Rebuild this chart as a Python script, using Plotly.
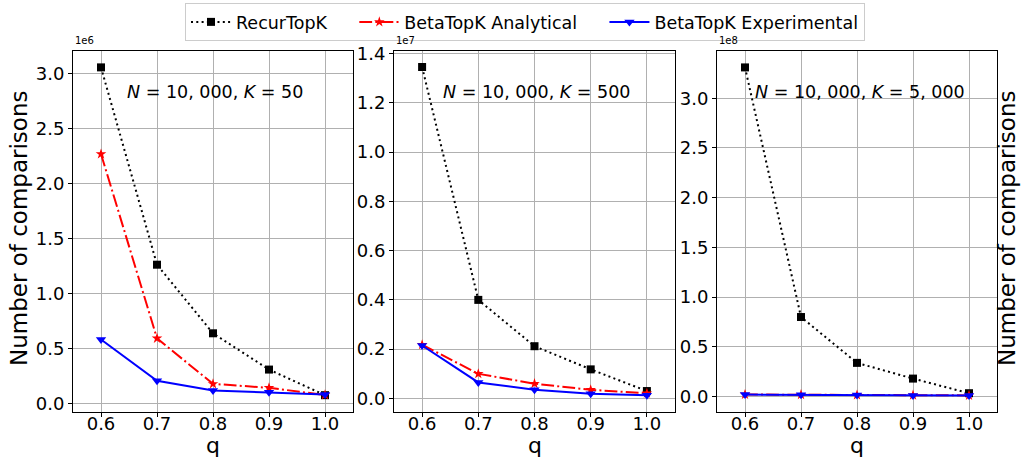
import plotly.graph_objects as go

q = [0.6, 0.7, 0.8, 0.9, 1.0]

# Panel 1: N=10,000, K=50
recur_k50 = [3.055e6, 1.26e6, 0.636e6, 0.306e6, 0.073e6]
analytical_k50 = [2.267e6, 0.59e6, 0.176e6, 0.14e6, 0.075e6]
experimental_k50 = [0.58e6, 0.204e6, 0.115e6, 0.10e6, 0.079e6]

# Panel 2: N=10,000, K=500
recur_k500 = [1.345e7, 0.40e7, 0.212e7, 0.118e7, 0.03e7]
analytical_k500 = [0.218e7, 0.10e7, 0.06e7, 0.035e7, 0.021e7]
experimental_k500 = [0.215e7, 0.065e7, 0.035e7, 0.019e7, 0.013e7]

# Panel 3: N=10,000, K=5,000
recur_k5000 = [3.31e8, 0.80e8, 0.339e8, 0.181e8, 0.034e8]
analytical_k5000 = [0.021e8, 0.019e8, 0.016e8, 0.014e8, 0.012e8]
experimental_k5000 = [0.02e8, 0.018e8, 0.015e8, 0.012e8, 0.01e8]

panel_titles = ["<i>N</i> = 10, 000, <i>K</i> = 50",
                "<i>N</i> = 10, 000, <i>K</i> = 500",
                "<i>N</i> = 10, 000, <i>K</i> = 5, 000"]
offset_labels = ["1e6", "1e7", "1e8"]
scales = [1e6, 1e7, 1e8]
ytick_labels = [
    ["0.0", "0.5", "1.0", "1.5", "2.0", "2.5", "3.0"],
    ["0.0", "0.2", "0.4", "0.6", "0.8", "1.0", "1.2", "1.4"],
    ["0.0", "0.5", "1.0", "1.5", "2.0", "2.5", "3.0"],
]
xtick_labels = ["0.6", "0.7", "0.8", "0.9", "1.0"]
series_names = ["RecurTopK", "BetaTopK Analytical", "BetaTopK Experimental"]
legend_pad = ["\u00a0\u00a0\u00a0\u00a0", "\u00a0\u00a0\u00a0\u00a0", ""]

W, H = 1021, 463
FONT = "DejaVu Sans"
ML, MR, MT, MB = 73, 24, 51, 51
PW, PH = W - ML - MR, H - MT - MB

def px_x(p):
    return (p - ML) / PW

def px_y(p):
    return (H - MB - p) / PH

panels = [
    (recur_k50, analytical_k50, experimental_k50),
    (recur_k500, analytical_k500, experimental_k500),
    (recur_k5000, analytical_k5000, experimental_k5000),
]

xpix = [(73, 353), (394, 675), (717, 997)]
yranges = [(-0.08e6, 3.204e6), (-0.055e7, 1.41e7), (-0.155e8, 3.475e8)]

fig = go.Figure()
for i, (rec, ana, exp) in enumerate(panels):
    xa = "x" if i == 0 else f"x{i+1}"
    ya = "y" if i == 0 else f"y{i+1}"
    show = i == 0
    fig.add_trace(go.Scatter(x=q, y=rec, xaxis=xa, yaxis=ya, name=series_names[0] + legend_pad[0],
                             mode="lines+markers", showlegend=show, legendrank=1,
                             line=dict(color="black", width=2, dash="2px,3.3px"),
                             marker=dict(symbol="square", size=8, color="black")))
    fig.add_trace(go.Scatter(x=q, y=ana, xaxis=xa, yaxis=ya, name=series_names[1] + legend_pad[1],
                             mode="lines+markers", showlegend=show, legendrank=2,
                             line=dict(color="#ff0000", width=2, dash="12.8px,3.2px,2px,3.2px"),
                             marker=dict(symbol="star", size=8, color="#ff0000")))
    fig.add_trace(go.Scatter(x=q, y=exp, xaxis=xa, yaxis=ya, name=series_names[2] + legend_pad[2],
                             mode="lines+markers", showlegend=show, legendrank=3,
                             line=dict(color="#0000ff", width=2),
                             marker=dict(symbol="triangle-down", size=9, color="#0000ff")))

layout = dict(
    width=W, height=H,
    margin=dict(l=ML, r=MR, t=MT, b=MB, autoexpand=False),
    paper_bgcolor="white", plot_bgcolor="white",
    font=dict(family=FONT, size=16, color="black"),
    showlegend=True,
    legend=dict(orientation="h", x=px_x(525), xanchor="center", y=px_y(3), yanchor="top",
                bordercolor="#cccccc", borderwidth=1, bgcolor="white",
                font=dict(size=17.5, family=FONT), itemwidth=40, tracegroupgap=0),
)

annotations = []
for i in range(3):
    sfx = "" if i == 0 else str(i + 1)
    x0, x1 = xpix[i]
    scale = scales[i]
    labels = ytick_labels[i]
    step = float(labels[1])
    tickvals = [j * step * scale for j in range(len(labels))]
    axis_common = dict(showline=True, linecolor="black", linewidth=1, mirror=True,
                       showgrid=True, gridcolor="#b0b0b0", gridwidth=0.8,
                       ticks="outside", ticklen=4, tickcolor="black", zeroline=False,
                       automargin=False,
                       tickfont=dict(size=18, family=FONT, color="black"))
    layout["xaxis" + sfx] = dict(domain=[px_x(x0), px_x(x1)], anchor="y" + sfx,
                                 range=[0.55, 1.05], tickvals=q, ticktext=xtick_labels,
                                 ticklabelstandoff=-9, **axis_common)
    layout["yaxis" + sfx] = dict(domain=[0, 1], anchor="x" + sfx,
                                 range=list(yranges[i]), tickvals=tickvals, ticktext=labels,
                                 **axis_common)
    annotations.append(dict(text=offset_labels[i], x=px_x(x0), y=px_y(48), xref="paper", yref="paper",
                            xanchor="left", yanchor="bottom", showarrow=False,
                            font=dict(size=10, family=FONT, color="black")))
    tx = [125, 441, 753][i]
    annotations.append(dict(text=panel_titles[i], x=px_x(tx), y=px_y(92), xref="paper", yref="paper",
                            xanchor="left", yanchor="middle", showarrow=False,
                            font=dict(size=17.5, family=FONT, color="black")))
    annotations.append(dict(text="q", x=px_x((x0 + x1) / 2), y=px_y(445), xref="paper", yref="paper",
                            xanchor="center", yanchor="middle", showarrow=False,
                            font=dict(size=22, family=FONT, color="black")))

for xp in (19, 1007):
    annotations.append(dict(text="Number of comparisons", x=px_x(xp), y=px_y(229), xref="paper", yref="paper",
                            textangle=-90, showarrow=False, xanchor="center", yanchor="middle",
                            font=dict(size=23, family=FONT, color="black")))
layout["annotations"] = annotations

fig.update_layout(**layout)
fig.write_html("out.html", config={"displayModeBar": False},
               post_script="document.body.style.margin='0px';document.body.style.overflow='hidden';")
